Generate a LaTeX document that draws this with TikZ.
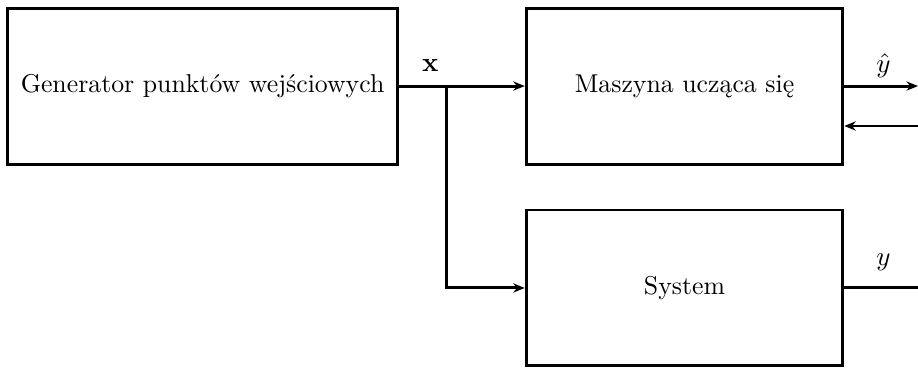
\documentclass[tikz,border=0pt]{standalone}
\usepackage{amsmath,amssymb}
\usepackage{tikz}
\usetikzlibrary{arrows.meta,positioning,calc}

\begin{document}
\begin{tikzpicture}[
  font=\fontsize{9.55}{11.5}\selectfont,
  blk/.style={rectangle,draw,line width=1.1pt,minimum height=2.03cm,align=center},
  arr/.style={-{Stealth[length=1.5mm,width=1.2mm]},line width=1.1pt},
  ln/.style={line width=1.1pt},
  lbl/.style={inner sep=1pt}
]
\useasboundingbox (0,0) rectangle (11.95,4.78);
\node[blk,minimum width=5.07cm] (gen) at (2.637,3.66) {Generator punktów wejściowych};
\node[blk,minimum width=4.12cm,right=1.64cm of gen] (ml) {Maszyna ucząca się};
\node[blk,minimum width=4.12cm,below=0.56cm of ml] (sys) {System};

\coordinate (split) at ($(gen.east)+(0.62,0)$);
\coordinate (yhatout) at (11.95,0|-ml.east);
\coordinate (fbin) at (11.95,3.14);
\coordinate (yout) at (11.95,0|-sys.east);

\draw[arr] (gen.east) -- (ml.west);
\draw[arr] (split) |- (sys.west);
\draw[arr] (ml.east) -- (yhatout);
\draw[arr] (fbin) -- (fbin-|ml.east);
\draw[ln] (sys.east) -- (yout);

\node[lbl] (xlbl) at (5.6,3.93) {$\mathbf{x}$};
\node[lbl] (yhatlbl) at (11.5,3.93) {$\hat{y}$};
\node[lbl] (ylbl) at (11.5,1.37) {$y$};
\end{tikzpicture}
\end{document}
